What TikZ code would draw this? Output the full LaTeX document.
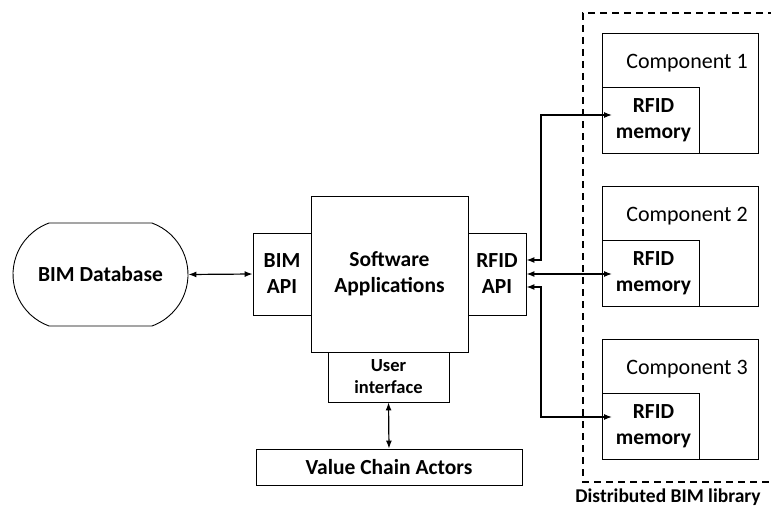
\documentclass[tikz,border=0pt]{standalone}
\usepackage{fontspec}
\setmainfont{Carlito}
\usetikzlibrary{shapes.misc,arrows.meta,calc}
\begin{document}
\begin{tikzpicture}[x=1pt,y=-1pt,
  box/.style={draw,line width=0.9pt,inner sep=0pt,align=center,font=\fontsize{21.5}{26}\selectfont\bfseries},
  comp/.style={draw,line width=0.9pt,inner sep=0pt,minimum width=156pt,minimum height=120pt},
  mem/.style={draw,line width=0.9pt,inner sep=0pt,minimum width=97pt,minimum height=66pt},
  memtxt/.style={align=center,inner sep=0pt,font=\fontsize{21.5}{26}\selectfont\bfseries},
  comptxt/.style={inner sep=0pt,font=\fontsize{22}{26}\selectfont},
  conn/.style={line width=1.2pt,{Latex[length=8pt,width=6pt]}-{Latex[length=8pt,width=6pt]}}
]
\useasboundingbox (0,0) rectangle (771,511);
% BIM database
\node[box,rounded rectangle,rounded rectangle arc length=140,minimum width=175pt,minimum height=103pt] (db) at (100.5,274.5) {BIM Database};
\node[box,minimum width=58pt,minimum height=82pt] (bapi) at (282,274) {BIM\\API};
\node[box,minimum width=157pt,minimum height=156pt] (sw) at (389.5,274) {Software\\Applications};
\node[box,minimum width=58pt,minimum height=82pt] (rapi) at (497,274) {RFID\\API};
\node[box,minimum width=121pt,minimum height=50pt,font=\fontsize{18.5}{22}\selectfont\bfseries] (ui) at (388.5,377) {User\\interface};
\node[box,minimum width=266pt,minimum height=36pt] (vca) at (389,467) {Value Chain Actors};
% dashed library (right side beyond the picture)
\draw[line width=1.1pt,dash pattern=on 7pt off 5pt] (775,13) -- (583,13) -- (583,482) -- (775,482);
\node[inner sep=0pt,font=\fontsize{19.5}{23}\selectfont\bfseries] (lib) at (668,497) {Distributed BIM library};
% components
\node[comp] (c1) at (680,93) {};
\node[mem] (m1) at (650.5,120) {};
\node[memtxt] (m1t) at (653.5,120) {RFID\\memory};
\node[comptxt] (c1t) at (687,63) {Component 1};
\node[comp] (c2) at (680,246) {};
\node[mem] (m2) at (650.5,273) {};
\node[memtxt] (m2t) at (653.5,273) {RFID\\memory};
\node[comptxt] (c2t) at (687,216) {Component 2};
\node[comp] (c3) at (680,399.5) {};
\node[mem] (m3) at (650.5,426.5) {};
\node[memtxt] (m3t) at (653.5,426.5) {RFID\\memory};
\node[comptxt] (c3t) at (687,369) {Component 3};
% connectors
\coordinate (t1) at (612,115);
\coordinate (t2) at (612,274);
\coordinate (t3) at (612,417);
\draw[conn] (db.east) -- (bapi.west);
\draw[conn] (ui.south) -- (vca.north);
\draw[conn] ($(rapi.east)+(0,-14)$) -- (541,260) -- (541,115) -- (t1);
\draw[conn] (rapi.east) -- (t2);
\draw[conn] ($(rapi.east)+(0,13)$) -- (541,287) -- (541,417) -- (t3);
\end{tikzpicture}
\end{document}
